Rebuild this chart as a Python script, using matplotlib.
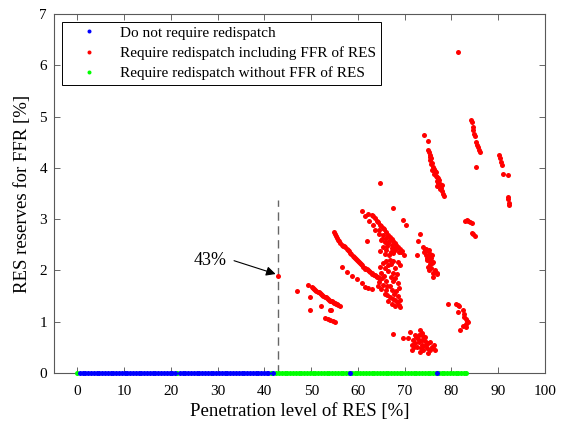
import numpy as np
import matplotlib
matplotlib.use("Agg")
import matplotlib.pyplot as plt

plt.rcParams['font.family'] = ['Liberation Serif', 'DejaVu Serif']

# points at y = 0 (no redispatch needed)
blue_x = [0.5, 1.1, 1.7, 2.3, 2.9, 3.5, 4.1, 4.7, 5.3, 5.9, 6.5, 7.1, 7.7, 8.3, 8.9,
          9.5, 10.1, 10.7, 11.3, 11.9, 12.5, 13.1, 13.7, 14.3, 14.9, 15.5, 16.1, 16.7,
          17.3, 17.9, 18.5, 19.1, 19.7, 20.3, 20.8, 21.9, 22.5, 23.1, 23.7, 24.3, 24.9,
          25.5, 26.1, 26.7, 27.3, 27.9, 28.5, 29.1, 29.7, 30.3, 30.9, 31.5, 32.1, 32.7,
          33.3, 33.9, 34.5, 35.1, 35.7, 36.3, 36.9, 37.5, 38.1, 38.7, 39.3, 39.9, 40.5,
          40.8, 41.9, 58.2, 76.9]
blue_y = np.zeros(len(blue_x))

# redispatch without FFR of RES (also at y = 0)
green_x = [0.0, 21.3, 41.4, 42.5, 43.1, 43.7, 44.3, 44.9, 45.5, 46.1, 46.7, 47.3, 47.9,
           48.5, 49.1, 49.7, 50.3, 50.9, 51.5, 52.1, 52.7, 53.3, 53.9, 54.5, 55.1, 55.7,
           56.3, 56.9, 57.5, 58.1, 58.7, 59.3, 59.9, 60.5, 61.1, 61.7, 62.3, 62.9, 63.5,
           64.1, 64.7, 65.3, 65.9, 66.5, 67.1, 67.7, 68.3, 68.9, 69.5, 70.1, 70.7, 71.3,
           71.9, 72.5, 73.1, 73.7, 74.3, 74.9, 75.5, 76.1, 76.7, 77.3, 77.9, 78.5, 79.1,
           79.7, 80.3, 80.9, 81.5, 82.1, 82.7, 83.2]
green_y = np.zeros(len(green_x))

# redispatch including FFR of RES: (penetration %, reserves %)
red_pts = [
    # first point, the 43% one
    (43.0, 1.90),
    # lower left lines
    (46.9, 1.60), (49.4, 1.72), (49.7, 1.48), (49.7, 1.23),
    (50.4, 1.65), (50.9, 1.62), (51.4, 1.58), (51.9, 1.56), (52.4, 1.52), (52.9, 1.49),
    (53.4, 1.46), (53.9, 1.42), (54.4, 1.40), (54.9, 1.37), (55.4, 1.35), (55.8, 1.33),
    (50.1, 1.68), (50.6, 1.64), (51.1, 1.60), (51.6, 1.57), (52.1, 1.54), (52.6, 1.51),
    (53.1, 1.48), (53.6, 1.44), (54.1, 1.41), (54.6, 1.39), (55.1, 1.36), (55.6, 1.34),
    (56.1, 1.30),
    (52.2, 1.31), (54.0, 1.23), (54.3, 1.22),
    (53.0, 1.07), (53.5, 1.05), (54.0, 1.04), (54.6, 1.02), (55.1, 1.00),
    # long line from 55 %
    (54.9, 2.74), (55.3, 2.68), (55.7, 2.60), (56.2, 2.53), (56.7, 2.48), (57.3, 2.45),
    (57.9, 2.40), (58.4, 2.34), (58.9, 2.29), (59.4, 2.24), (59.7, 2.20), (60.2, 2.16),
    (60.6, 2.12), (61.1, 2.07), (61.6, 2.03), (62.1, 2.00), (62.6, 1.97), (63.1, 1.94),
    (63.6, 1.91), (64.0, 1.88), (64.4, 1.85),
    (55.0, 2.71), (55.5, 2.64), (56.0, 2.57), (56.5, 2.50), (57.0, 2.47), (57.6, 2.42),
    (58.1, 2.37), (58.6, 2.32), (59.1, 2.27), (59.6, 2.22), (60.0, 2.18), (60.4, 2.14),
    (60.9, 2.10), (61.4, 2.05), (61.9, 2.02), (62.4, 1.98), (62.9, 1.95), (63.4, 1.92),
    (63.8, 1.90), (64.2, 1.87), (64.8, 1.83),
    (56.5, 2.06), (57.6, 1.97), (58.7, 1.89), (59.7, 1.83), (60.8, 1.75), (61.5, 1.68),
    (62.2, 1.66), (62.9, 1.63),
    # wedge 64-69 %
    (64.7, 2.07), (65.3, 2.15), (66.0, 2.18), (66.8, 2.20), (67.5, 2.18), (68.6, 2.17),
    (65.0, 1.95), (65.6, 1.90), (66.4, 1.98), (67.4, 1.95), (68.3, 1.94), (64.6, 1.78),
    (65.3, 1.72), (66.1, 1.62), (66.8, 1.70), (67.6, 1.80), (68.6, 1.75), (68.2, 1.60),
    (66.9, 1.49), (67.5, 1.45), (67.9, 1.42), (68.4, 1.38), (69.0, 1.29), (68.7, 1.33),
    (65.7, 1.55), (66.3, 1.52), (64.3, 1.70), (67.2, 1.62),
    (65.8, 2.05), (66.5, 2.10), (67.1, 2.12), (68.0, 2.05), (68.9, 2.10), (65.2, 1.85),
    (66.0, 1.80), (67.0, 1.88), (68.0, 1.85), (68.8, 1.65), (65.0, 1.63), (66.5, 1.40),
    (67.2, 1.35), (68.0, 1.30), (68.5, 1.50), (69.0, 1.42), (67.8, 1.55), (66.2, 1.70),
    # upper lines from 61 %
    (60.8, 3.16), (61.5, 3.06), (62.4, 2.97), (63.3, 2.89), (63.7, 2.79), (64.4, 2.72),
    (63.3, 3.06), (64.0, 2.97), (64.7, 2.88), (65.6, 2.80), (66.5, 2.69), (67.2, 2.61),
    (67.9, 2.53), (68.6, 2.45), (69.4, 2.37), (69.8, 2.31),
    (62.2, 3.10), (62.9, 3.08), (63.6, 3.03), (64.3, 2.95), (65.0, 2.86), (65.3, 2.83),
    (66.0, 2.75), (66.8, 2.66), (67.5, 2.58), (68.2, 2.50), (68.9, 2.42), (69.2, 2.36),
    (64.6, 2.78), (65.3, 2.70), (66.0, 2.64), (66.6, 2.58), (67.3, 2.50), (68.0, 2.43),
    (68.7, 2.36), (65.0, 2.60), (66.3, 2.48), (67.0, 2.35), (66.6, 2.30), (67.6, 2.34),
    (65.1, 2.62), (65.8, 2.56), (66.5, 2.53), (65.4, 2.46), (66.1, 2.40), (67.2, 2.43),
    (67.9, 2.40), (64.7, 2.37), (65.8, 2.33), (61.9, 2.58),
    # isolated
    (64.8, 3.71), (67.4, 3.21), (69.6, 2.98), (70.3, 2.88),
    # cluster 73-77 %, around 2.3
    (73.2, 2.71), (72.8, 2.58), (72.6, 2.30), (74.0, 2.45), (74.3, 2.40), (74.6, 2.42),
    (74.9, 2.38), (75.2, 2.40), (75.4, 2.33), (74.5, 2.30), (75.0, 2.28), (75.6, 2.25),
    (74.8, 2.20), (75.3, 2.18), (75.8, 2.15), (76.1, 2.17), (75.0, 2.07), (75.6, 2.05),
    (76.4, 2.01), (76.0, 1.95), (76.8, 1.93), (76.1, 1.88), (77.0, 1.95),
    (74.2, 2.35), (74.7, 2.25), (75.5, 2.12), (75.9, 2.30), (75.2, 2.00),
    # cluster 74-78 %, around 4
    (74.2, 4.65), (74.9, 4.53), (75.1, 4.30), (75.3, 4.25), (75.5, 4.22), (75.7, 4.20),
    (75.4, 4.15), (75.8, 4.10), (76.0, 4.02), (76.2, 3.98), (75.9, 3.95), (76.4, 3.93),
    (76.7, 3.92), (76.6, 3.85), (76.9, 3.82), (77.1, 3.80), (77.4, 3.76), (77.2, 3.70),
    (77.6, 3.68), (77.9, 3.66), (77.8, 3.60), (78.0, 3.55), (78.1, 3.50), (78.3, 3.45),
    (75.0, 4.35), (75.6, 4.08), (76.3, 3.88), (76.8, 3.75), (77.0, 3.65), (77.5, 3.58),
    # bottom blob 70-77 %
    (67.4, 0.77), (69.6, 0.69),
    (71.1, 0.79), (73.3, 0.83), (72.2, 0.74), (74.0, 0.72), (70.8, 0.68), (71.8, 0.64),
    (72.9, 0.66), (74.3, 0.63), (75.0, 0.58), (75.8, 0.51), (76.1, 0.48), (75.4, 0.44),
    (74.0, 0.45), (72.6, 0.51), (71.5, 0.55), (73.6, 0.55), (74.7, 0.48), (73.3, 0.41),
    (75.0, 0.39), (72.2, 0.59), (74.3, 0.71), (73.0, 0.75), (73.8, 0.65), (74.5, 0.55),
    (73.0, 0.60), (72.5, 0.70), (75.5, 0.60), (74.0, 0.52), (76.3, 0.55), (73.5, 0.48),
    (71.5, 0.45), (72.0, 0.50), (76.5, 0.45), (73.8, 0.78),
    # cluster 79-84 %, around 1
    (79.2, 1.35), (81.0, 1.35), (81.3, 1.33), (81.7, 1.31), (81.3, 1.18), (82.5, 1.23),
    (82.6, 1.15), (82.7, 1.10), (83.2, 1.05), (83.6, 1.00), (83.1, 0.95), (83.1, 0.90),
    (82.4, 0.92), (81.8, 0.84), (83.4, 1.02),
    # cluster 83-85 %, around 2.8
    (82.9, 2.97), (83.3, 2.98), (83.6, 2.97), (84.0, 2.95), (84.3, 2.93), (84.3, 2.73),
    (84.6, 2.72), (85.0, 2.67),
    # upper right lines
    (84.2, 4.94), (84.4, 4.90), (84.6, 4.80), (84.7, 4.73), (84.9, 4.66), (85.0, 4.62),
    (85.3, 4.50), (85.5, 4.45), (85.6, 4.40), (85.8, 4.35), (86.0, 4.31), (85.2, 4.02),
    (90.2, 4.26), (90.4, 4.20), (90.5, 4.11), (90.9, 4.05), (91.1, 3.88), (92.0, 3.86),
    (92.0, 3.44), (92.1, 3.40), (92.3, 3.31), (92.3, 3.27),
    (81.4, 6.25),
]
red = np.array(red_pts)

threshold = 43  # first penetration level needing FFR
xticks = np.arange(0, 101, 10)
yticks = np.arange(0, 8, 1)

fig = plt.figure(figsize=(5.65, 4.22), dpi=100)
ax = fig.add_axes([0.0956, 0.1161, 0.869, 0.8507])

ms = 3.6
ax.plot(green_x, green_y, 'o', color=(0, 1, 0), ms=ms, mew=0, zorder=4, clip_on=False,
        label="Require redispatch without FFR of RES")
ax.plot(blue_x, blue_y, 'o', color=(0, 0, 1), ms=ms, mew=0, zorder=5, clip_on=False,
        label="Do not require redispatch")
ax.plot(red[:, 0], red[:, 1], 'o', color=(1, 0, 0), ms=ms, mew=0, zorder=3,
        label="Require redispatch including FFR of RES")

ax.vlines(threshold, 0, 3.37, colors='0.4', linestyles=(0, (6, 4)), lw=1.0, zorder=1)
ax.annotate('', xy=(42.4, 1.93), xytext=(33.5, 2.19),
            arrowprops=dict(arrowstyle='-|>', color='k', lw=0.8, mutation_scale=14,
                            shrinkA=0, shrinkB=0))
ax.text(28.4, 2.19, "43%", fontsize=13, ha='center', va='center')

ax.set_xlim(-5, 100)
ax.set_ylim(0, 7)
ax.set_xticks(xticks)
ax.set_yticks(yticks)
ax.tick_params(direction='in', top=True, right=True, length=4, width=0.6,
               color='0.3', labelsize=11)
ax.tick_params(axis='x', pad=8.5)
ax.tick_params(axis='y', pad=5)
for s in ax.spines.values():
    s.set_color('0.35')
    s.set_linewidth(0.8)

ax.set_xlabel("Penetration level of RES [%]", fontsize=13.5, labelpad=3.5)
ax.set_ylabel("RES reserves for FFR [%]", fontsize=13.5, labelpad=6)

handles, labels = ax.get_legend_handles_labels()
order = [1, 2, 0]
leg = ax.legend([handles[i] for i in order], [labels[i] for i in order],
                loc='upper left', bbox_to_anchor=(0.016, 0.979), borderaxespad=0,
                fontsize=11, fancybox=False, framealpha=1, edgecolor='k',
                handlelength=3.0, handletextpad=0.5, labelspacing=0.42,
                borderpad=0.3, markerscale=0.8)
leg.get_frame().set_linewidth(0.7)
leg.set_zorder(6)

fig.savefig("out.png", dpi=100)
